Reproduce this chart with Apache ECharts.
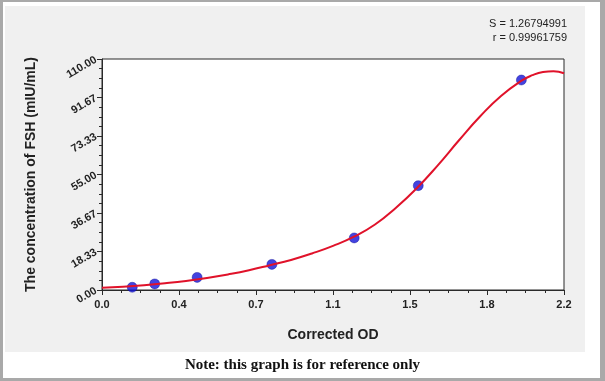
<!DOCTYPE html>
<html>
<head>
<meta charset="utf-8">
<script src="https://cdn.jsdelivr.net/npm/echarts@6/dist/echarts.min.js"></script>
<style>
  html, body { margin: 0; padding: 0; }
  body { width: 605px; height: 381px; position: relative; background: #ffffff; overflow: hidden; }
  #frame { position: absolute; left: 0; top: 0; width: 605px; height: 381px; box-sizing: border-box;
           border-left: 3px solid #a9a9a9; border-top: 2px solid #a9a9a9; border-right: 5px solid #a9a9a9; border-bottom: 3px solid #a9a9a9; }
  #panel { position: absolute; left: 5px; top: 6px; width: 580px; height: 346px; background: #f0f0f0; }
  #chart { position: absolute; left: 0; top: 0; width: 605px; height: 381px; }
</style>
</head>
<body>
<div id="frame"></div>
<div id="panel"></div>
<div id="chart"></div>
<script>
// Measured standards (Corrected OD, FSH mIU/mL)
const odValues   = [0.144, 0.251, 0.453, 0.809, 1.201, 1.506, 1.997];
const concValues = [1.3, 2.9, 6.0, 12.2, 24.8, 49.7, 100.0];

// Fitted curve
const curveX = [0.00, 0.10, 0.20, 0.30, 0.40, 0.50, 0.60, 0.70, 0.80, 0.90, 1.00, 1.10, 1.20, 1.30, 1.40, 1.50, 1.60, 1.70, 1.80, 1.90, 2.00, 2.05, 2.10, 2.15, 2.20];
const curveY = [1.1, 1.6, 2.3, 3.2, 4.3, 5.7, 7.4, 9.4, 11.8, 14.3, 17.4, 21.0, 25.4, 31.2, 39.2, 48.6, 59.5, 71.3, 82.6, 92.4, 99.8, 102.3, 103.8, 104.2, 103.2];

const statLines = ['S = 1.26794991', 'r = 0.99961759'];
const noteText = 'Note: this graph is for reference only';
const xName = 'Corrected OD';
const yName = 'The concentration of FSH (mIU/mL)';

const chart = echarts.init(document.getElementById('chart'), null, { renderer: 'canvas' });
const axisColor = '#2a2a2a';
const option = {
  animation: false,
  backgroundColor: 'transparent',
  grid: { left: 102, right: 41, top: 59, bottom: 91, show: true, backgroundColor: '#ffffff', borderColor: axisColor, borderWidth: 1 },
  xAxis: {
    type: 'value', min: 0, max: 2.2, interval: 2.2 / 6,
    name: xName, nameLocation: 'middle', nameGap: 38,
    nameTextStyle: { fontFamily: 'Liberation Sans, Arial', fontSize: 14, fontWeight: 'bold', color: '#222' },
    axisLine: { show: true, lineStyle: { color: axisColor, width: 1 } },
    axisTick: { show: true, length: 5, lineStyle: { color: axisColor } },
    minorTick: { show: true, splitNumber: 4, length: 3, lineStyle: { color: axisColor } },
    splitLine: { show: false },
    axisLabel: { formatter: v => v.toFixed(1), fontFamily: 'Liberation Sans, Arial', fontSize: 11, fontWeight: 'bold', color: '#222', margin: 9 }
  },
  yAxis: {
    type: 'value', min: 0, max: 110, interval: 110 / 6,
    name: yName, nameLocation: 'middle', nameGap: 64,
    nameTextStyle: { fontFamily: 'Liberation Sans, Arial', fontSize: 14, fontWeight: 'bold', color: '#222' },
    axisLine: { show: true, lineStyle: { color: axisColor, width: 1 } },
    axisTick: { show: true, length: 5, lineStyle: { color: axisColor } },
    minorTick: { show: true, splitNumber: 4, length: 3, lineStyle: { color: axisColor } },
    splitLine: { show: false },
    axisLabel: { formatter: v => v.toFixed(2), rotate: 30, fontFamily: 'Liberation Sans, Arial', fontSize: 11, fontWeight: 'bold', color: '#222', margin: 6 }
  },
  graphic: [
    { type: 'text', right: 38, top: 18, style: { text: statLines[0], font: '11px "Liberation Sans", Arial', fill: '#222', textAlign: 'right' } },
    { type: 'text', right: 38, top: 32, style: { text: statLines[1], font: '11px "Liberation Sans", Arial', fill: '#222', textAlign: 'right' } },
    { type: 'text', left: 'center', top: 358, style: { text: noteText, font: 'bold 15px "Liberation Serif", "Times New Roman", serif', fill: '#111' } }
  ],
  series: [
    {
      type: 'scatter', z: 2,
      data: odValues.map((x, i) => [x, concValues[i]]),
      symbol: 'circle', symbolSize: 10,
      itemStyle: { color: '#1414d8', borderColor: '#0a0a90', borderWidth: 0.5 }
    },
    {
      type: 'line', z: 3,
      data: curveX.map((x, i) => [x, curveY[i]]),
      smooth: 0.5, showSymbol: false, symbol: 'none',
      lineStyle: { color: '#e0122a', width: 2 }
    }
  ]
};
chart.setOption(option);
</script>
</body>
</html>
